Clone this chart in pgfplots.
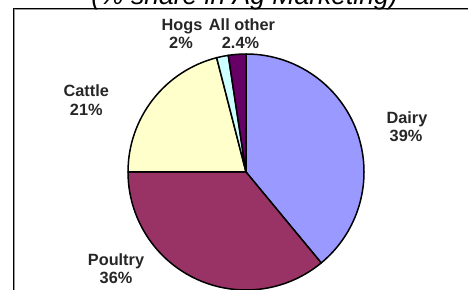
\documentclass[border=0pt]{standalone}
\usepackage{pgfplots}
\usepackage{pgfplotstable}
\pgfplotsset{compat=1.18}
\usepackage{fontspec}
\setmainfont{Liberation Sans}
\definecolor{dairy}{HTML}{9999FF}
\definecolor{poultry}{HTML}{993366}
\definecolor{cattle}{HTML}{FFFFCC}
\definecolor{hogs}{HTML}{CCFFFF}
\definecolor{other}{HTML}{660066}
\definecolor{lbl}{HTML}{262626}
\definecolor{shadow}{HTML}{9A9A9A}

\pgfplotstableread{
value col
39 dairy
36 poultry
21 cattle
1.6 hogs
2.4 other
}\piedata

\begin{document}
\begin{tikzpicture}
\useasboundingbox (0,0) rectangle (468bp,290bp);
\clip (0,0) rectangle (468bp,290bp);
\begin{axis}[
  at={(0,0)}, anchor=south west,
  scale only axis, width=468bp, height=290bp,
  xmin=0, xmax=468, ymin=0, ymax=290,
  hide axis, clip=false,
]
% frame with shadow line
\draw[shadow, line width=1.2bp] (axis cs:14.8,-20) -- (axis cs:14.8,280.3) -- (axis cs:490,280.3);
\draw[black, line width=1.1bp] (axis cs:13.4,-20) -- (axis cs:13.4,281.6) -- (axis cs:490,281.6);
% title (cut at top)
\node[anchor=base, font=\fontsize{26.5bp}{30bp}\selectfont\itshape, text=black]
  at (axis cs:244.5,285.7) {(\% share in Ag Marketing)};
% pie wedges
\pgfplotstablegetrowsof{\piedata}
\pgfmathtruncatemacro{\lastrow}{\pgfplotsretval-1}
\def\angA{90}
\pgfplotsforeachungrouped \r in {0,...,\lastrow}{%
  \pgfplotstablegetelem{\r}{value}\of\piedata
  \pgfmathsetmacro{\angB}{\angA-3.6*\pgfplotsretval}%
  \pgfplotstablegetelem{\r}{col}\of\piedata
  \edef\mywedge{\noexpand\filldraw[fill=\pgfplotsretval,draw=black,line width=1.5bp,line join=round]
    (axis cs:246,118) -- ++(\angA:118bp) arc[start angle=\angA,end angle=\angB,radius=118bp] -- cycle;}%
  \mywedge
  \let\angA\angB
}
% labels
\tikzset{lab/.style={anchor=base, text=lbl, inner sep=0pt, font=\fontsize{16.3bp}{18bp}\selectfont\bfseries}}
\node[lab] at (axis cs:407,166.7) {Dairy};
\node[lab] at (axis cs:406,148.3) {39\%};
\node[lab] at (axis cs:86.3,193.3) {Cattle};
\node[lab] at (axis cs:86.3,175) {21\%};
\node[lab] at (axis cs:116,25) {Poultry};
\node[lab] at (axis cs:116,6.7) {36\%};
\node[lab] at (axis cs:182,260) {Hogs};
\node[lab] at (axis cs:181,241.7) {2\%};
\node[lab] at (axis cs:242,260) {All other};
\node[lab] at (axis cs:240.5,241.7) {2.4\%};
\end{axis}
\end{tikzpicture}
\end{document}
